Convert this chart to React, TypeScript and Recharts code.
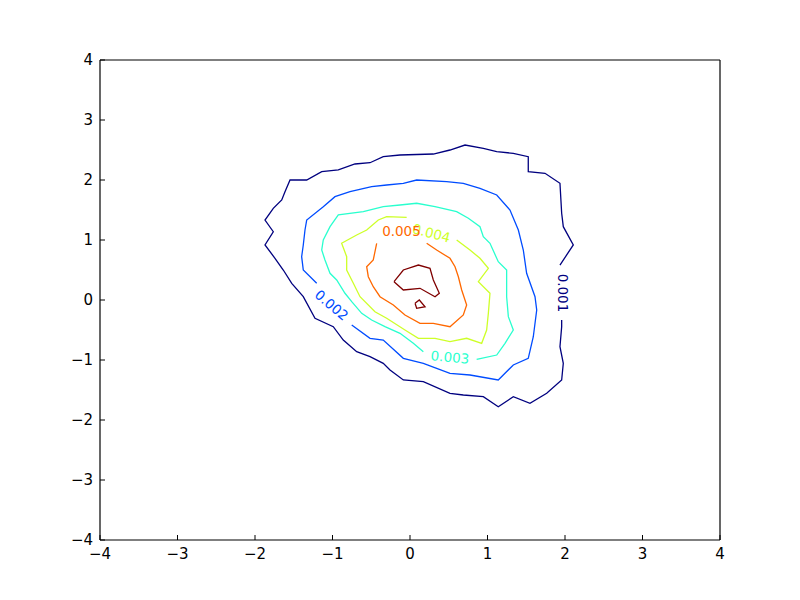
import { ComposedChart, Line, XAxis, YAxis, ReferenceDot } from 'recharts';

type Pt = { x: number; y: number };

// contour levels (matplotlib jet colours for 6 levels)
const levels = ['0.001', '0.002', '0.003', '0.004', '0.005', '0.006'];
const levelColors = ['#00007f', '#004cff', '#29ffce', '#ceff29', '#ff6800', '#7f0000'];

const axisTicks = [-4, -3, -2, -1, 0, 1, 2, 3, 4];

// 0.001 — open at the inline label on the right side
const c001: Pt[] = [
  { x: 1.935, y: 0.583 }, { x: 2.107, y: 0.917 }, { x: 1.978, y: 1.222 }, { x: 1.957, y: 1.445 },
  { x: 1.935, y: 1.945 }, { x: 1.742, y: 2.112 }, { x: 1.526, y: 2.138 }, { x: 1.526, y: 2.388 },
  { x: 1.333, y: 2.445 }, { x: 1.119, y: 2.472 }, { x: 0.946, y: 2.528 }, { x: 0.71, y: 2.583 },
  { x: 0.516, y: 2.5 }, { x: 0.301, y: 2.433 }, { x: -0.129, y: 2.417 }, { x: -0.345, y: 2.388 },
  { x: -0.516, y: 2.288 }, { x: -0.71, y: 2.267 }, { x: -0.925, y: 2.167 }, { x: -1.139, y: 2.138 },
  { x: -1.333, y: 2.0 }, { x: -1.548, y: 2.0 }, { x: -1.613, y: 1.805 }, { x: -1.655, y: 1.667 },
  { x: -1.764, y: 1.528 }, { x: -1.871, y: 1.333 }, { x: -1.764, y: 1.138 }, { x: -1.871, y: 0.917 },
  { x: -1.742, y: 0.695 }, { x: -1.635, y: 0.5 }, { x: -1.526, y: 0.278 }, { x: -1.377, y: 0.055 },
  { x: -1.226, y: -0.305 }, { x: -0.99, y: -0.445 }, { x: -0.861, y: -0.667 }, { x: -0.688, y: -0.862 },
  { x: -0.516, y: -0.945 }, { x: -0.345, y: -1.055 }, { x: -0.258, y: -1.167 }, { x: -0.086, y: -1.333 },
  { x: 0.172, y: -1.362 }, { x: 0.516, y: -1.555 }, { x: 0.688, y: -1.583 }, { x: 0.946, y: -1.612 },
  { x: 1.139, y: -1.778 }, { x: 1.333, y: -1.612 }, { x: 1.548, y: -1.722 }, { x: 1.764, y: -1.555 },
  { x: 1.957, y: -1.333 }, { x: 1.978, y: -1.055 }, { x: 1.935, y: -0.778 }, { x: 1.957, y: -0.445 },
  { x: 1.957, y: -0.333 },
];

// 0.002 — open at the label on the lower left
const c002: Pt[] = [
  { x: -0.752, y: -0.417 }, { x: -0.516, y: -0.638 }, { x: -0.345, y: -0.667 }, { x: -0.086, y: -0.972 },
  { x: 0.172, y: -1.055 }, { x: 0.516, y: -1.222 }, { x: 0.774, y: -1.25 }, { x: 1.139, y: -1.333 },
  { x: 1.333, y: -1.083 }, { x: 1.526, y: -0.972 }, { x: 1.591, y: -0.612 }, { x: 1.635, y: -0.167 },
  { x: 1.613, y: 0.055 }, { x: 1.505, y: 0.445 }, { x: 1.462, y: 0.833 }, { x: 1.398, y: 1.167 },
  { x: 1.29, y: 1.5 }, { x: 1.119, y: 1.75 }, { x: 0.903, y: 1.862 }, { x: 0.688, y: 1.945 },
  { x: 0.473, y: 1.972 }, { x: 0.086, y: 2.0 }, { x: -0.086, y: 1.945 }, { x: -0.301, y: 1.917 },
  { x: -0.495, y: 1.888 }, { x: -0.774, y: 1.805 }, { x: -0.968, y: 1.722 }, { x: -1.119, y: 1.555 },
  { x: -1.333, y: 1.333 }, { x: -1.355, y: 1.167 }, { x: -1.377, y: 0.917 }, { x: -1.398, y: 0.722 },
  { x: -1.377, y: 0.5 }, { x: -1.204, y: 0.278 },
];

// 0.003 — open at the label at the bottom
const c003: Pt[] = [
  { x: 0.86, y: -0.988 }, { x: 1.119, y: -0.917 }, { x: 1.226, y: -0.722 }, { x: 1.333, y: -0.5 },
  { x: 1.269, y: -0.278 }, { x: 1.247, y: 0.055 }, { x: 1.247, y: 0.5 }, { x: 1.139, y: 0.638 },
  { x: 1.032, y: 0.945 }, { x: 0.946, y: 1.055 }, { x: 0.903, y: 1.222 }, { x: 0.753, y: 1.362 },
  { x: 0.602, y: 1.472 }, { x: 0.323, y: 1.555 }, { x: 0.086, y: 1.612 }, { x: -0.129, y: 1.583 },
  { x: -0.345, y: 1.555 }, { x: -0.602, y: 1.472 }, { x: -0.925, y: 1.417 }, { x: -1.032, y: 1.222 },
  { x: -1.119, y: 1.0 }, { x: -1.139, y: 0.833 }, { x: -1.097, y: 0.667 }, { x: -1.032, y: 0.445 },
  { x: -0.946, y: 0.333 }, { x: -0.839, y: 0.112 }, { x: -0.752, y: -0.028 }, { x: -0.623, y: -0.222 },
  { x: -0.495, y: -0.333 }, { x: -0.323, y: -0.445 }, { x: -0.129, y: -0.555 }, { x: 0.043, y: -0.722 },
  { x: 0.172, y: -0.862 },
];

// 0.004 — open at the label at the top
const c004: Pt[] = [
  { x: 0.602, y: 1.0 }, { x: 0.774, y: 0.833 }, { x: 0.903, y: 0.695 }, { x: 1.011, y: 0.528 },
  { x: 0.882, y: 0.305 }, { x: 1.032, y: 0.112 }, { x: 1.011, y: -0.222 }, { x: 0.989, y: -0.5 },
  { x: 0.925, y: -0.722 }, { x: 0.731, y: -0.638 }, { x: 0.516, y: -0.695 }, { x: 0.323, y: -0.638 },
  { x: 0.108, y: -0.638 }, { x: -0.065, y: -0.5 }, { x: -0.301, y: -0.305 }, { x: -0.452, y: -0.195 },
  { x: -0.645, y: 0.055 }, { x: -0.731, y: 0.278 }, { x: -0.817, y: 0.5 }, { x: -0.817, y: 0.722 },
  { x: -0.882, y: 0.945 }, { x: -0.688, y: 1.083 }, { x: -0.559, y: 1.167 }, { x: -0.409, y: 1.333 },
  { x: -0.301, y: 1.388 }, { x: -0.043, y: 1.378 },
];

// 0.005 — open at the label at the top
const c005: Pt[] = [
  { x: 0.215, y: 0.945 }, { x: 0.344, y: 0.833 }, { x: 0.516, y: 0.695 }, { x: 0.581, y: 0.555 },
  { x: 0.624, y: 0.388 }, { x: 0.667, y: 0.167 }, { x: 0.731, y: -0.083 }, { x: 0.688, y: -0.25 },
  { x: 0.516, y: -0.445 }, { x: 0.301, y: -0.388 }, { x: 0.129, y: -0.388 }, { x: -0.065, y: -0.25 },
  { x: -0.215, y: -0.083 }, { x: -0.387, y: 0.055 }, { x: -0.474, y: 0.222 }, { x: -0.538, y: 0.388 },
  { x: -0.559, y: 0.555 }, { x: -0.474, y: 0.667 }, { x: -0.43, y: 0.945 },
];

// 0.006 — two small closed loops
const c006a: Pt[] = [
  { x: -0.206, y: 0.305 }, { x: -0.086, y: 0.5 }, { x: 0.108, y: 0.583 }, { x: 0.258, y: 0.528 },
  { x: 0.301, y: 0.333 }, { x: 0.378, y: 0.112 }, { x: 0.323, y: 0.055 }, { x: 0.129, y: 0.195 },
  { x: -0.086, y: 0.167 }, { x: -0.206, y: 0.305 },
];
const c006b: Pt[] = [
  { x: 0.065, y: -0.055 }, { x: 0.12, y: 0.0 }, { x: 0.194, y: -0.112 }, { x: 0.086, y: -0.138 },
  { x: 0.065, y: -0.055 },
];

const contours: { level: number; pts: Pt[] }[] = [
  { level: 0, pts: c001 },
  { level: 1, pts: c002 },
  { level: 2, pts: c003 },
  { level: 3, pts: c004 },
  { level: 4, pts: c005 },
  { level: 5, pts: c006a },
  { level: 5, pts: c006b },
];

// inline label positions (data coords)
const labelX = [1.974, -1.01, 0.516, 0.277, -0.11];
const labelY = [0.117, -0.083, -0.95, 1.117, 1.15];
const labelAngle = [90, 40, 5, 15, 0];

const fmt = (v: number) => (v < 0 ? `\u2212${-v}` : `${v}`);
const FONT = 'DejaVu Sans, sans-serif';

export default function App() {
  return (
    <div style={{ position: 'absolute', left: 0, top: 0, background: '#fff' }}>
      <ComposedChart width={800} height={600} margin={{ top: 59, right: 79, bottom: 59, left: 99 }}>
        <XAxis
          xAxisId="b"
          dataKey="x"
          type="number"
          domain={[-4, 4]}
          ticks={axisTicks}
          allowDataOverflow
          height={1}
          stroke="#000"
          axisLine={{ stroke: '#000', strokeWidth: 1.2 }}
          tickLine={{ stroke: '#000', strokeWidth: 1 }}
          tickSize={-5}
          tickMargin={13}
          tickFormatter={fmt}
          tick={{ fill: '#000', fontSize: 15, fontFamily: FONT }}
        />
        <XAxis
          xAxisId="t"
          orientation="top"
          type="number"
          domain={[-4, 4]}
          ticks={axisTicks}
          height={1}
          stroke="#000"
          axisLine={{ stroke: '#000', strokeWidth: 1.2 }}
          tickLine={{ stroke: '#000', strokeWidth: 1 }}
          tickSize={-5}
          tick={false}
        />
        <YAxis
          yAxisId="l"
          dataKey="y"
          type="number"
          domain={[-4, 4]}
          ticks={axisTicks}
          allowDataOverflow
          width={1}
          stroke="#000"
          axisLine={{ stroke: '#000', strokeWidth: 1.2 }}
          tickLine={{ stroke: '#000', strokeWidth: 1 }}
          tickSize={-5}
          tickMargin={12}
          tickFormatter={fmt}
          tick={{ fill: '#000', fontSize: 15, fontFamily: FONT }}
        />
        <YAxis
          yAxisId="r"
          orientation="right"
          type="number"
          domain={[-4, 4]}
          ticks={axisTicks}
          width={1}
          stroke="#000"
          axisLine={{ stroke: '#000', strokeWidth: 1.2 }}
          tickLine={{ stroke: '#000', strokeWidth: 1 }}
          tickSize={-5}
          tick={false}
        />
        {contours.map((c, i) => (
          <Line
            key={i}
            xAxisId="b"
            yAxisId="l"
            data={c.pts}
            dataKey="y"
            type="linear"
            stroke={levelColors[c.level]}
            strokeWidth={1.3}
            dot={false}
            activeDot={false}
            isAnimationActive={false}
          />
        ))}
        {labelX.map((lx, i) => (
          <ReferenceDot
            key={`lbl${i}`}
            xAxisId="b"
            yAxisId="l"
            x={lx}
            y={labelY[i]}
            r={0}
            shape={(p: any) => (
              <text
                x={p.cx}
                y={p.cy}
                textAnchor="middle"
                dominantBaseline="central"
                transform={`rotate(${labelAngle[i]} ${p.cx} ${p.cy})`}
                fill={levelColors[i]}
                fontSize={13.5}
                fontFamily={FONT}
              >
                {levels[i]}
              </text>
            )}
          />
        ))}
      </ComposedChart>
    </div>
  );
}
